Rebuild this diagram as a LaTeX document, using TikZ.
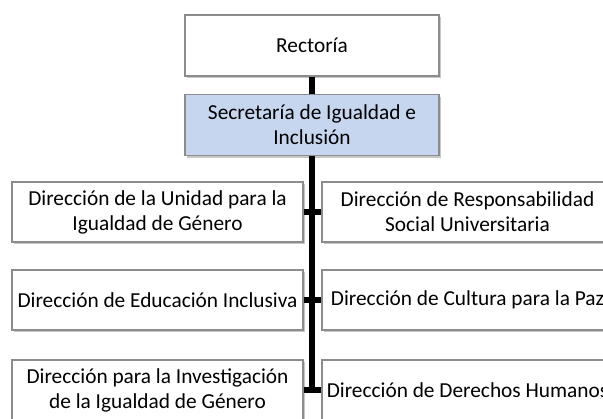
\documentclass[tikz,border=0pt]{standalone}
\usepackage{fontspec}
\setmainfont{Carlito}
\usetikzlibrary{shadows}
\definecolor{boxgray}{RGB}{140,140,140}
\definecolor{secblue}{RGB}{198,214,238}
\begin{document}
\begin{tikzpicture}[x=0.75pt,y=-0.75pt,
  box/.style={draw=boxgray, line width=0.8pt, fill=white, align=center, inner sep=0pt,
    font=\fontsize{16}{18.8}\selectfont,
    drop shadow={shadow xshift=1.2pt, shadow yshift=-1.8pt, opacity=0.22, fill=black}},
  topbox/.style={box, minimum width=190.5pt, minimum height=45.75pt},
  dirbox/.style={box, minimum width=218.25pt, minimum height=45pt},
  conn/.style={line width=4.2pt, line cap=butt}]
\useasboundingbox (0,0) rectangle (603,418);
\clip (0,0) rectangle (603,418);
\fill[white] (0,0) rectangle (603,418);
\node[topbox] (rec) at (312,45.5) {Rectoría};
\node[topbox, fill=secblue] (sec) at (312,125) {Secretaría de Igualdad e\\Inclusión};
\node[dirbox] (l1) at (157.5,212) {Dirección de la Unidad para la\\Igualdad de Género};
\node[dirbox] (l2) at (157.5,300) {Dirección de Educación Inclusiva};
\node[dirbox] (l3) at (157.5,390) {Dirección para la Investigación\\de la Igualdad de Género};
\node[dirbox] (r1) at (467.5,212) {Dirección de Responsabilidad\\Social Universitaria};
\node[dirbox] (r2) at (467.5,300) {Dirección de Cultura para la Paz};
\node[dirbox] (r3) at (467.5,390) {Dirección de Derechos Humanos};
\coordinate (bot) at (312,393);
\draw[conn] (rec.south) -- (sec.north);
\draw[conn] (sec.south) -- (bot);
\draw[conn] (l1.east) -- (r1.west);
\draw[conn] (l2.east) -- (r2.west);
\draw[conn] (l3.east) -- (r3.west);
\end{tikzpicture}
\end{document}
